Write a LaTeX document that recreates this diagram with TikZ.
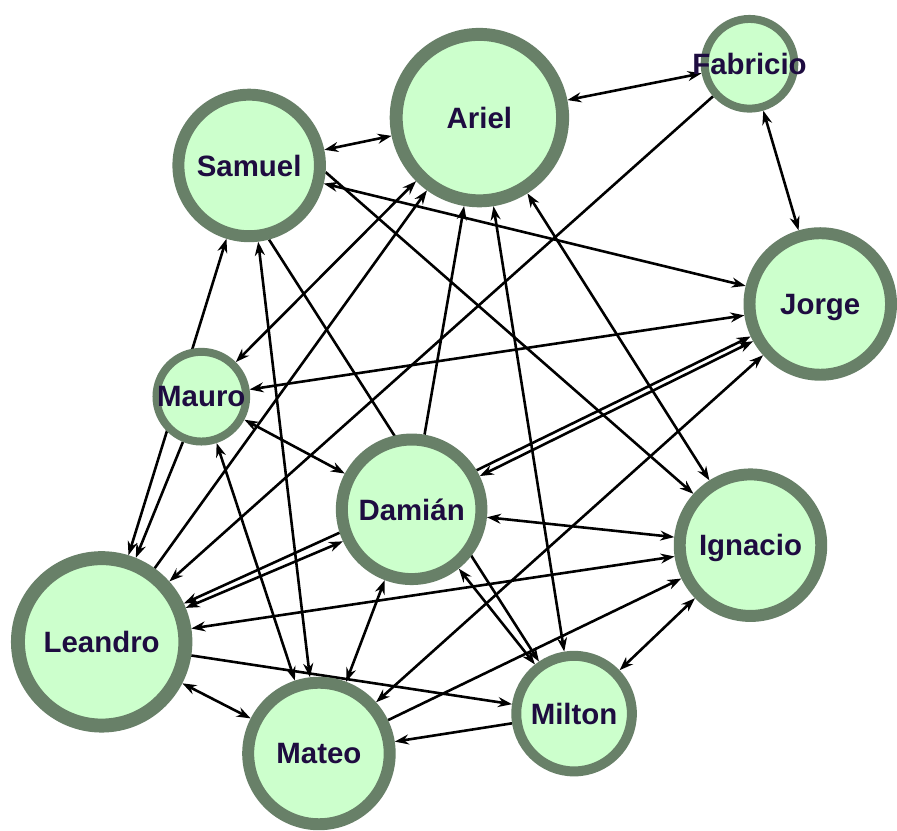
\documentclass[tikz,border=0pt]{standalone}
\usepackage{fontspec}
\setmainfont{Liberation Sans}
\usetikzlibrary{arrows.meta,backgrounds}
\definecolor{ringgreen}{RGB}{104,128,104}
\definecolor{fillgreen}{RGB}{204,255,204}
\definecolor{namecol}{RGB}{30,12,64}
\begin{document}
\begin{tikzpicture}[x=1pt,y=-1pt,
    person/.style={circle,draw=ringgreen,fill=fillgreen,inner sep=0pt,text depth=0pt,
      text=namecol,font=\fontsize{29.5}{31}\selectfont\bfseries},
    link/.style={line width=2.6pt,>={Stealth[length=14pt,width=10pt]}}]
    \node[person,line width=13pt,minimum size=167pt] (ariel) at (481,118) {Ariel};
    \node[person,line width=8pt,minimum size=90pt] (fabricio) at (752,64) {\makebox[0pt]{Fabricio}};
    \node[person,line width=12pt,minimum size=142pt] (samuel) at (250,166) {Samuel};
    \node[person,line width=12pt,minimum size=142pt] (jorge) at (823,305) {Jorge};
    \node[person,line width=8pt,minimum size=90pt] (mauro) at (202,398) {\makebox[0pt]{Mauro}};
    \node[person,line width=12pt,minimum size=140pt] (damian) at (413,511) {Damián};
    \node[person,line width=12pt,minimum size=142pt] (ignacio) at (753,547) {Ignacio};
    \node[person,line width=14pt,minimum size=168pt] (leandro) at (102,644) {Leandro};
    \node[person,line width=12pt,minimum size=142pt] (mateo) at (320,756) {Mateo};
    \node[person,line width=10pt,minimum size=116pt] (milton) at (576,716) {Milton};
    \begin{pgfonlayer}{background}
    \path[use as bounding box,fill=white] (0,0) rectangle (897,832);
    \draw[link,<->] (samuel) -- (ariel);
    \draw[link,<->] (ariel) -- (fabricio);
    \draw[link,<->] (fabricio) -- (jorge);
    \draw[link,<->] (samuel) -- (jorge);
    \draw[link,->] (samuel.-5) -- (ignacio.138);
    \draw[link,->] (samuel.-75) -- (milton.124);
    \draw[link,<->] (samuel) -- (mateo);
    \draw[link,<->] (samuel) -- (leandro);
    \draw[link,<->] (ariel) -- (mauro);
    \draw[link,->] (leandro) -- (ariel);
    \draw[link,->] (damian) -- (ariel);
    \draw[link,<->] (ariel) -- (milton);
    \draw[link,<->] (ariel) -- (ignacio);
    \draw[link,->] (fabricio) -- (leandro);
    \draw[link,<->] (mauro) -- (jorge);
    \draw[link,->] (damian.31) -- (jorge.205);
    \draw[link,<->] (damian.26) -- (jorge.209);
    \draw[link,<->] (mateo) -- (jorge);
    \draw[link,->] (mauro) -- (leandro);
    \draw[link,<->] (mauro) -- (mateo);
    \draw[link,<->] (mauro) -- (damian);
    \draw[link,->] (damian.198) -- (leandro.25);
    \draw[link,<->] (leandro.22) -- (damian.205);
    \draw[link,<->] (leandro) -- (ignacio);
    \draw[link,->] (leandro) -- (milton);
    \draw[link,<->] (leandro) -- (mateo);
    \draw[link,<->] (damian) -- (ignacio);
    \draw[link,<->] (damian) -- (milton);
    \draw[link,<->] (damian) -- (mateo);
    \draw[link,->] (milton) -- (mateo);
    \draw[link,<->] (milton) -- (ignacio);
    \draw[link,->] (mateo) -- (ignacio);
    \end{pgfonlayer}
\end{tikzpicture}
\end{document}
